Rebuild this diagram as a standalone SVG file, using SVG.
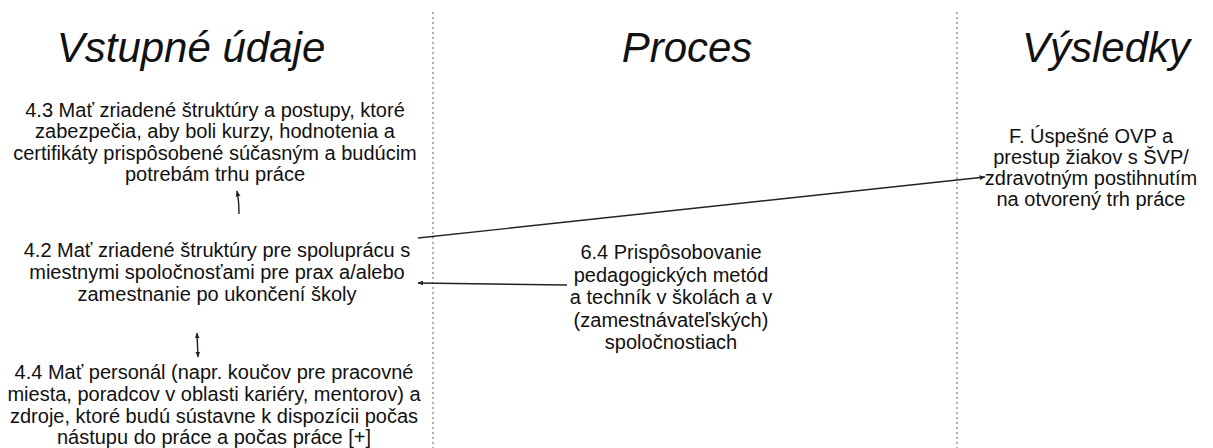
<svg xmlns="http://www.w3.org/2000/svg" width="1213" height="448" viewBox="0 0 1213 448">
  <style>
    .title { font-family: "Liberation Sans", Arial, sans-serif; font-style: italic; font-size: 42px; fill: #111; text-anchor: middle; }
    .body { font-family: "Liberation Sans", Arial, sans-serif; font-size: 20px; fill: #111; text-anchor: middle; }
    .divider { stroke: #9a9a9a; stroke-width: 1.6; stroke-dasharray: 2 3; fill: none; }
    .conn { stroke: #222; stroke-width: 1.4; fill: none; }
  </style>
  <defs>
    <marker id="head" viewBox="0 0 10 10" refX="9" refY="5" markerWidth="6" markerHeight="6" orient="auto-start-reverse" markerUnits="userSpaceOnUse">
      <path d="M0,1 L10,5 L0,9 Z" fill="#222"/>
    </marker>
  </defs>
  <rect width="1213" height="448" fill="#fff"/>

  <!-- column dividers -->
  <g id="dividers">
    <line class="divider" x1="433" y1="12" x2="433" y2="448"/>
    <line class="divider" x1="957" y1="12" x2="957" y2="448"/>
  </g>

  <!-- column headings -->
  <g id="headings">
    <text class="title" x="191" y="62">Vstupné údaje</text>
    <text class="title" x="687" y="62">Proces</text>
    <text class="title" x="1106" y="62">Výsledky</text>
  </g>

  <g id="node-4-3">
    <text class="body" x="215" y="117">4.3 Mať zriadené štruktúry a postupy, ktoré</text>
    <text class="body" x="215" y="138">zabezpečia, aby boli kurzy, hodnotenia a</text>
    <text class="body" x="215" y="160">certifikáty prispôsobené súčasným a budúcim</text>
    <text class="body" x="215" y="181">potrebám trhu práce</text>
  </g>

  <g id="node-4-2">
    <text class="body" x="217" y="257">4.2 Mať zriadené štruktúry pre spoluprácu s</text>
    <text class="body" x="217" y="279">miestnymi spoločnosťami pre prax a/alebo</text>
    <text class="body" x="217" y="301">zamestnanie po ukončení školy</text>
  </g>

  <g id="node-4-4">
    <text class="body" x="214" y="379">4.4 Mať personál (napr. koučov pre pracovné</text>
    <text class="body" x="214" y="401">miesta, poradcov v oblasti kariéry, mentorov) a</text>
    <text class="body" x="214" y="423">zdroje, ktoré budú sústavne k dispozícii počas</text>
    <text class="body" x="214" y="444">nástupu do práce a počas práce [+]</text>
  </g>

  <g id="node-6-4">
    <text class="body" x="671" y="259">6.4 Prispôsobovanie</text>
    <text class="body" x="671" y="282">pedagogických metód</text>
    <text class="body" x="671" y="304">a techník v školách a v</text>
    <text class="body" x="671" y="327">(zamestnávateľských)</text>
    <text class="body" x="671" y="349">spoločnostiach</text>
  </g>

  <g id="node-F">
    <text class="body" x="1091" y="143">F. Úspešné OVP a</text>
    <text class="body" x="1091" y="164">prestup žiakov s ŠVP/</text>
    <text class="body" x="1091" y="185">zdravotným postihnutím</text>
    <text class="body" x="1091" y="206">na otvorený trh práce</text>
  </g>

  <g id="connectors">
    <path class="conn" d="M239,214 Q239,201 237,191" marker-end="url(#head)"/>
    <line class="conn" x1="197" y1="333" x2="198" y2="357" marker-start="url(#head)" marker-end="url(#head)"/>
    <line class="conn" x1="567" y1="285" x2="418" y2="283" marker-end="url(#head)"/>
    <line class="conn" x1="418" y1="238" x2="985" y2="177" marker-end="url(#head)"/>
  </g>
</svg>
